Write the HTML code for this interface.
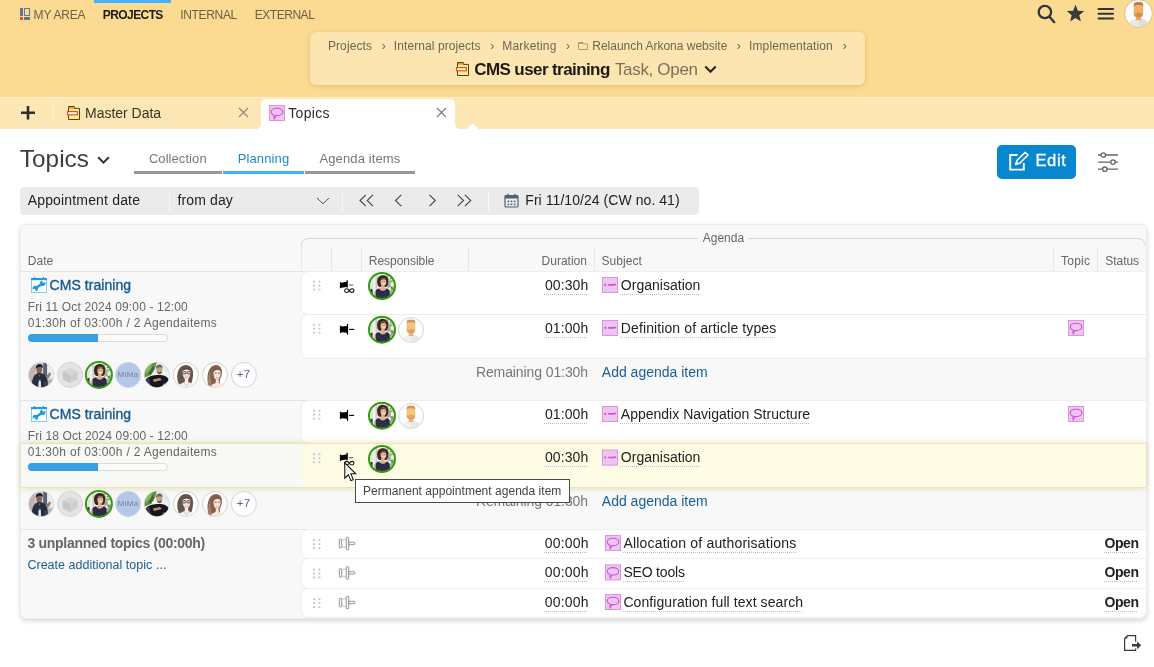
<!DOCTYPE html>
<html lang="en">
<head>
<meta charset="utf-8">
<title>Topics - CMS user training</title>
<style>
*{box-sizing:border-box;margin:0;padding:0}
html,body{width:1154px;height:667px;overflow:hidden;background:#fff}
body{font-family:"Liberation Sans",sans-serif;color:#222;position:relative;font-size:14px}
.a{position:absolute}
.t{position:absolute;white-space:nowrap;line-height:1;z-index:2}
.t.du{text-decoration:underline dotted #a9c4dd;text-decoration-thickness:1px;text-underline-offset:3.5px}
.t.tip{z-index:12}
#top{left:0;top:0;width:1154px;height:97px;background:#fbdb92}
#tabbar{left:0;top:97px;width:1154px;height:32px;background:#fce6b4;border-top:1px solid #fdecc6}
#crumb{left:310px;top:32px;width:555px;height:53px;background:#fce5b0;border-radius:6px;box-shadow:0 1px 5px rgba(170,120,30,.3)}
#navbar{left:94px;top:0;width:77px;height:3px;background:#44b1fd}
#acttab{left:261px;top:99px;width:194px;height:30px;background:#fff;border-radius:5px 5px 0 0}
.sub{height:3px;top:171px;background:#979797}
#filter{left:20px;top:187px;width:679px;height:28px;background:#ebebeb;border-radius:4px}
.fsep{top:191px;width:1px;height:20px;background:#f7f7f7}
#panel{left:20px;top:224px;width:1127px;height:395px;background:#f8f8f8;border:1px solid #ececec;border-radius:6px;box-shadow:0 2px 5px rgba(0,0,0,.16)}
.hsep{top:248px;width:1px;height:23px;background:#e6e6e6}
.hl{height:1px;background:#e4e4e4}
.row{left:302px;width:844px;background:#fff;border-radius:6px 0 0 6px;box-shadow:-1px 0 0 #eee,0 1px 0 #ececec,0 -1px 0 #efefef}
.av{border-radius:50%;overflow:hidden}
#edit{left:997px;top:145px;width:79px;height:34px;background:#0886ce;border-radius:5px}
#tipbox{left:355px;top:479px;width:215px;height:24px;background:#fff;border:1px solid #4a4a4a;z-index:10}
#cursor{left:343px;top:461px;z-index:14}
svg{position:absolute;overflow:visible}
#texts{position:absolute;left:0;top:0;width:1154px;height:667px;will-change:transform;z-index:2;pointer-events:none}
#tiptext{position:absolute;left:0;top:0;width:1154px;height:667px;will-change:transform;z-index:12;pointer-events:none}

</style>
</head>
<body>
<div class="a" id="top"></div>
<div class="a" id="tabbar"></div>
<div class="a" id="navbar"></div>
<div class="a" id="crumb"></div>
<!-- nav icon -->
<svg style="left:20px;top:8px" width="10" height="12" viewBox="0 0 10 12"><rect x="0" y="0" width="3" height="8" fill="#5f7896"/><rect x="4.5" y="0.5" width="5" height="7" fill="none" stroke="#5f7896"/><rect x="0" y="9" width="3" height="3" fill="#e0564e"/><rect x="4" y="9" width="6" height="3" fill="#5f7896"/></svg>
<!-- top right icons -->
<svg style="left:1036px;top:4px" width="20" height="20" viewBox="0 0 20 20"><circle cx="8.9" cy="8" r="6.2" fill="none" stroke="#32363c" stroke-width="2.3"/><path d="M13.5 12.8 L18.2 18.2" stroke="#32363c" stroke-width="2.4" stroke-linecap="round"/></svg>
<svg style="left:1066px;top:4px" width="19" height="18" viewBox="0 0 19 18"><path d="M9.5 0.8 L11.9 6.7 L18.2 7.1 L13.3 11.2 L14.9 17.4 L9.5 14 L4.1 17.4 L5.7 11.2 L0.8 7.1 L7.1 6.7 Z" fill="#3a3a3a"/></svg>
<svg style="left:1098px;top:8px" width="16" height="12" viewBox="0 0 16 12"><path d="M0.5 1 H15 M0.5 5.8 H15 M0.5 10.6 H15" stroke="#30333a" stroke-width="2" stroke-linecap="round"/></svg>
<svg style="left:1124px;top:-1.5px" width="29" height="29" viewBox="-14.5 -14.5 29 29"><defs><clipPath id="uc"><circle r="13.4"/></clipPath><filter id="ubl" x="-10%" y="-10%" width="120%" height="120%"><feGaussianBlur stdDeviation="0.3"/></filter></defs><circle r="13.9" fill="#fdfdfd" stroke="#dcc08a" stroke-width="1"/><g clip-path="url(#uc)"><g filter="url(#ubl)" transform="scale(1.1)"><path d="M-10.4 13 C-10.4 7.4 -6 5 0 5 C6 5 10.4 7.4 10.4 13 Z" fill="#e9e9e9"/><path d="M0.3 5 C6 5 10.4 7.4 10.4 13 L0.3 13 Z" fill="#dedede"/><rect x="-2.4" y="1" width="4.8" height="5" fill="#e9a65c"/><rect x="-4.3" y="-10.2" width="8.5" height="13.4" rx="2.6" fill="#f0b06c"/><path d="M-4.3 -6 L-4.3 -7.6 C-4.3 -9.6 -3 -10.3 -1.6 -10.3 L1.6 -10.3 C3 -10.3 4.2 -9.6 4.2 -7.6 L4.2 -6 C3.6 -7.6 3 -7.8 0 -7.8 C-3 -7.8 -3.7 -7.6 -4.3 -6 Z" fill="#b87a42"/><path d="M-4.3 -3 C-4.3 2.4 -2.6 3.4 0 3.4 C2.6 3.4 4.2 2.4 4.2 -3 C3.8 0 3 0.4 0 0.4 C-3 0.4 -3.9 0 -4.3 -3 Z" fill="#cf9550"/><path d="M-1.6 -0.4 H1.6" stroke="#a86f3a" stroke-width="0.7"/></g></g></svg>
<!-- breadcrumb folder + task icon -->
<svg style="left:578px;top:42px" width="10" height="8" viewBox="0 0 10 8"><path d="M0.5 0.5 H5 V1.9 H9.5 V7.5 H0.5 Z" fill="none" stroke="#a89a7a" stroke-width="1"/><rect x="0.5" y="0.3" width="4.5" height="1.5" fill="#a89a7a"/></svg>
<svg style="left:456px;top:62px" width="13" height="14" viewBox="0 0 13 14"><path d="M1.5 0.5 H7.3 V2.4 H12.5 V13.5 H1.5 Z" fill="#fcee8e" stroke="#4a4420" stroke-width="1"/><rect x="2" y="1" width="4.8" height="1.7" fill="#ff9800"/><rect x="0.6" y="5.6" width="9.8" height="3.2" fill="#fff" stroke="#ff3b00" stroke-width="1.1"/></svg>
<!-- tab bar -->
<svg style="left:20px;top:105px" width="16" height="16" viewBox="0 0 16 16"><path d="M8 1 V14.6 M1 7.8 H15" stroke="#2e2e2e" stroke-width="2.6"/></svg>
<div class="a" style="left:53px;top:101px;width:1px;height:23px;background:#fdf0d0"></div>
<svg style="left:67px;top:106px" width="13" height="14" viewBox="0 0 13 14"><path d="M1.5 0.5 H7.3 V2.4 H12.5 V13.5 H1.5 Z" fill="#fcee8e" stroke="#4a4420" stroke-width="1"/><rect x="2" y="1" width="4.8" height="1.7" fill="#ff9800"/><rect x="0.6" y="5.6" width="9.8" height="3.2" fill="#fff" stroke="#ff3b00" stroke-width="1.1"/></svg>
<svg style="left:238px;top:107.2px" width="11" height="11" viewBox="0 0 11 11"><path d="M1 1 L10 10 M10 1 L1 10" stroke="#8d8778" stroke-width="1.1"/></svg>
<div class="a" id="acttab"></div>
<svg style="left:255px;top:123px" width="6" height="6" viewBox="0 0 6 6"><path d="M6 0 V6 H0 C4 6 6 4 6 0 Z" fill="#fff"/></svg>
<svg style="left:455px;top:123px" width="6" height="6" viewBox="0 0 6 6"><path d="M0 0 V6 H6 C2 6 0 4 0 0 Z" fill="#fff"/></svg>
<svg style="left:466.3px;top:122.5px" width="13.2" height="6.5" viewBox="0 0 14 7"><path d="M0 7 L7 0 L14 7 Z" fill="#fff"/></svg>
<svg style="left:436px;top:107.2px" width="11" height="11" viewBox="0 0 11 11"><path d="M1 1 L10 10 M10 1 L1 10" stroke="#777" stroke-width="1.1"/></svg>
<svg class="ti" style="left:269px;top:105px" width="16" height="16" viewBox="0 0 16 16"><rect x="0.5" y="0.5" width="15" height="15" fill="#eec4f0" stroke="#dd92e2"/><path d="M8 3.2 C11.3 3.2 13.8 4.8 13.8 6.9 C13.8 9 11.3 10.6 8 10.6 C7.5 10.6 7 10.55 6.5 10.5 C6.3 11.6 5.9 12.6 5.3 13.6 C5.2 12.4 5 11.2 4.7 10 C3.2 9.3 2.2 8.2 2.2 6.9 C2.2 4.8 4.7 3.2 8 3.2 Z" fill="none" stroke="#c754d0" stroke-width="1.1"/></svg>
<!-- title chevron -->
<svg style="left:96.5px;top:156px" width="13" height="8.7" viewBox="0 0 12 8"><path d="M1.1 1.2 L6 6.1 L10.9 1.2" fill="none" stroke="#333" stroke-width="1.9"/></svg>
<svg style="left:704px;top:65px" width="13" height="9" viewBox="0 0 13 9"><path d="M1.3 1.5 L6.5 6.7 L11.7 1.5" fill="none" stroke="#2b2820" stroke-width="2.2"/></svg>
<!-- sub tabs -->
<div class="a sub" style="left:134px;width:88px"></div>
<div class="a sub" style="left:223px;width:81px;background:#41b0fe"></div>
<div class="a sub" style="left:305px;width:110px"></div>
<!-- edit button -->
<div class="a" id="edit"></div>
<svg style="left:1008px;top:150px" width="22" height="22" viewBox="0 0 22 22"><path d="M9.5 5 H2.2 V19.6 H15.8 V13" fill="none" stroke="#fff" stroke-width="1.9"/><path d="M7.6 14.6 L8.8 10.6 L17.2 2.2 L20 5 L11.6 13.4 Z" fill="#0886ce" stroke="#fff" stroke-width="1.5" stroke-linejoin="round"/><path d="M7.2 15 L8.6 11 L11.2 13.6 Z" fill="#fff"/></svg>
<svg style="left:1098px;top:152px" width="20" height="20" viewBox="0 0 20 20"><g stroke="#666" stroke-width="1.3" fill="#fff"><path d="M0 3 H20 M0 10.1 H20 M0 17.2 H20"/><circle cx="5.3" cy="3" r="2.2"/><circle cx="15" cy="10.1" r="2.2"/><circle cx="6.8" cy="17.2" r="2.2"/></g></svg>
<!-- filter bar -->
<div class="a" id="filter"></div>
<div class="a fsep" style="left:169px"></div>
<div class="a fsep" style="left:342px"></div>
<div class="a fsep" style="left:488px"></div>
<svg style="left:316px;top:197px" width="14" height="8" viewBox="0 0 14 8"><path d="M1 1 L7 6.8 L13 1" fill="none" stroke="#555" stroke-width="1"/></svg>
<svg style="left:359px;top:194px" width="113" height="13" viewBox="0 0 113 13"><g fill="none" stroke="#444" stroke-width="1.1"><path d="M6.8 0.8 L1 6.5 L6.8 12.2 M14 0.8 L8.2 6.5 L14 12.2"/><path d="M42.3 0.8 L36.5 6.5 L42.3 12.2"/><path d="M70.5 0.8 L76.3 6.5 L70.5 12.2"/><path d="M98.7 0.8 L104.5 6.5 L98.7 12.2 M105.9 0.8 L111.7 6.5 L105.9 12.2"/></g></svg>
<svg style="left:504px;top:193px" width="15" height="15" viewBox="0 0 15 15"><rect x="1" y="2.5" width="13" height="11.5" rx="1" fill="none" stroke="#566070" stroke-width="1.2"/><rect x="1" y="2.5" width="13" height="3" fill="#566070"/><path d="M4 0.8 V3 M11 0.8 V3" stroke="#566070" stroke-width="1.4"/><g fill="#566070"><rect x="3.6" y="7.6" width="1.6" height="1.6"/><rect x="6.7" y="7.6" width="1.6" height="1.6"/><rect x="9.8" y="7.6" width="1.6" height="1.6"/><rect x="3.6" y="10.6" width="1.6" height="1.6"/><rect x="6.7" y="10.6" width="1.6" height="1.6"/><rect x="9.8" y="10.6" width="1.6" height="1.6"/></g></svg>
<!-- panel -->
<div class="a" id="panel"></div>
<svg style="left:301px;top:238px" width="846" height="12" viewBox="0 0 846 12"><path d="M0.5 9.5 V8 Q0.5 0.5 8 0.5 H397" fill="none" stroke="#d6d6d6"/><path d="M447 0.5 H836 Q843.5 0.5 843.5 6.5" fill="none" stroke="#d6d6d6"/></svg>
<div class="a hsep" style="left:301px"></div>
<div class="a hsep" style="left:331px"></div>
<div class="a hsep" style="left:361px"></div>
<div class="a hsep" style="left:468px"></div>
<div class="a hsep" style="left:594px"></div>
<div class="a hsep" style="left:1053px"></div>
<div class="a hsep" style="left:1097px"></div>
<div class="a hl" style="left:21px;top:271px;width:1125px"></div>
<div class="a hl" style="left:21px;top:400px;width:1125px"></div>
<div class="a hl" style="left:21px;top:529px;width:1125px"></div>
<div class="a row" style="top:272px;height:42px"></div><div class="a row" style="top:315px;height:43px"></div><div class="a row" style="top:401px;height:42px"></div><div class="a hl" style="left:303px;top:314px;width:843px;background:#ebebeb"></div><div class="a" style="left:21px;top:443px;width:1125px;height:45px;border-top:1px solid #ebe5b4;border-bottom:1px solid #ebe5b4;box-shadow:0 0 6px rgba(190,180,90,.45);background:#f8f8f5"></div><div class="a" style="left:302px;top:444px;width:844px;height:43px;background:#fdfbe3;border-radius:6px 0 0 6px"></div><div class="a row" style="top:530px;height:28.3px;border-radius:6px 0 0 6px"></div><div class="a row" style="top:559.3px;height:28.7px;border-radius:6px 0 0 6px"></div><div class="a row" style="top:589px;height:28.4px;border-radius:6px 0 6px 6px"></div><div class="a" style="left:28px;top:334px;width:140px;height:8px;border:1px solid #dcdcdc;border-radius:4px;background:#fbfbfb"></div><div class="a" style="left:28px;top:334px;width:70px;height:8px;border-radius:4px 0 0 4px;background:#379fe6"></div><div class="a" style="left:28px;top:463px;width:140px;height:8px;border:1px solid #dcdcdc;border-radius:4px;background:#fbfbfb"></div><div class="a" style="left:28px;top:463px;width:70px;height:8px;border-radius:4px 0 0 4px;background:#379fe6"></div><svg style="left:0;top:0" width="1154" height="667" viewBox="0 0 1154 667"><defs><filter id="bl" x="-10%" y="-10%" width="120%" height="120%"><feGaussianBlur stdDeviation="0.45"/></filter><filter id="bl2" x="-10%" y="-10%" width="120%" height="120%"><feGaussianBlur stdDeviation="0.3"/></filter></defs><rect x="313.1" y="280.7" width="1.9" height="1.9" rx="0.4" fill="#b9c1d2"/><rect x="313.1" y="284.7" width="1.9" height="1.9" rx="0.4" fill="#b9c1d2"/><rect x="313.1" y="288.7" width="1.9" height="1.9" rx="0.4" fill="#b9c1d2"/><rect x="318.5" y="280.7" width="1.9" height="1.9" rx="0.4" fill="#b9c1d2"/><rect x="318.5" y="284.7" width="1.9" height="1.9" rx="0.4" fill="#b9c1d2"/><rect x="318.5" y="288.7" width="1.9" height="1.9" rx="0.4" fill="#b9c1d2"/><g transform="translate(602,277)"><rect x="0.5" y="0.5" width="15" height="15" fill="#eec4f0" stroke="#dd92e2"/><rect x="2.3" y="6.9" width="1.9" height="1.9" fill="#c754d0"/><path d="M6.2 7.9 H12 L13.8 7.2" stroke="#c754d0" stroke-width="1.7" fill="none"/></g><rect x="313.1" y="323.7" width="1.9" height="1.9" rx="0.4" fill="#b9c1d2"/><rect x="313.1" y="327.7" width="1.9" height="1.9" rx="0.4" fill="#b9c1d2"/><rect x="313.1" y="331.7" width="1.9" height="1.9" rx="0.4" fill="#b9c1d2"/><rect x="318.5" y="323.7" width="1.9" height="1.9" rx="0.4" fill="#b9c1d2"/><rect x="318.5" y="327.7" width="1.9" height="1.9" rx="0.4" fill="#b9c1d2"/><rect x="318.5" y="331.7" width="1.9" height="1.9" rx="0.4" fill="#b9c1d2"/><g transform="translate(602,320)"><rect x="0.5" y="0.5" width="15" height="15" fill="#eec4f0" stroke="#dd92e2"/><rect x="2.3" y="6.9" width="1.9" height="1.9" fill="#c754d0"/><path d="M6.2 7.9 H12 L13.8 7.2" stroke="#c754d0" stroke-width="1.7" fill="none"/></g><rect x="313.1" y="409.7" width="1.9" height="1.9" rx="0.4" fill="#b9c1d2"/><rect x="313.1" y="413.7" width="1.9" height="1.9" rx="0.4" fill="#b9c1d2"/><rect x="313.1" y="417.7" width="1.9" height="1.9" rx="0.4" fill="#b9c1d2"/><rect x="318.5" y="409.7" width="1.9" height="1.9" rx="0.4" fill="#b9c1d2"/><rect x="318.5" y="413.7" width="1.9" height="1.9" rx="0.4" fill="#b9c1d2"/><rect x="318.5" y="417.7" width="1.9" height="1.9" rx="0.4" fill="#b9c1d2"/><g transform="translate(602,406)"><rect x="0.5" y="0.5" width="15" height="15" fill="#eec4f0" stroke="#dd92e2"/><rect x="2.3" y="6.9" width="1.9" height="1.9" fill="#c754d0"/><path d="M6.2 7.9 H12 L13.8 7.2" stroke="#c754d0" stroke-width="1.7" fill="none"/></g><rect x="313.1" y="453.3" width="1.9" height="1.9" rx="0.4" fill="#c0c5cc"/><rect x="313.1" y="457.3" width="1.9" height="1.9" rx="0.4" fill="#c0c5cc"/><rect x="313.1" y="461.3" width="1.9" height="1.9" rx="0.4" fill="#c0c5cc"/><rect x="318.5" y="453.3" width="1.9" height="1.9" rx="0.4" fill="#c0c5cc"/><rect x="318.5" y="457.3" width="1.9" height="1.9" rx="0.4" fill="#c0c5cc"/><rect x="318.5" y="461.3" width="1.9" height="1.9" rx="0.4" fill="#c0c5cc"/><g transform="translate(602,449.6)"><rect x="0.5" y="0.5" width="15" height="15" fill="#eec4f0" stroke="#dd92e2"/><rect x="2.3" y="6.9" width="1.9" height="1.9" fill="#c754d0"/><path d="M6.2 7.9 H12 L13.8 7.2" stroke="#c754d0" stroke-width="1.7" fill="none"/></g><g transform="translate(339.9,285)"><path d="M0 -3 L0.9 -3 L1.4 -2.3 L6.6 -3.2 L6.6 -4.8 L7.9 -4.8 L7.9 2.6 L6.6 2.6 L6.6 2 L1.4 2.7 L0.9 3.3 L0 3.3 Z" fill="#000"/><path d="M8.8 0.1 H13.2" stroke="#666" stroke-width="1.1"/><path d="M9.4 5.6 C8 3.2 5 3.2 4.8 5.5 C4.6 8 7.8 8.1 9.4 5.6 C11 3.1 14.2 3.2 14 5.6 C13.8 8 10.8 8 9.4 5.6 Z" fill="none" stroke="#111" stroke-width="1.1"/></g><g transform="translate(339.9,329.4)"><path d="M0 -3.6 L1 -3.6 L1.6 -2.8 L7 -3.3 L7 -5.4 L8.2 -5.4 L8.2 5.4 L7 5.4 L7 3.3 L1.6 2.8 L1 3.6 L0 3.6 Z" fill="#000"/><path d="M9.2 0 H14.2" stroke="#000" stroke-width="1.1"/></g><g transform="translate(339.9,415.4)"><path d="M0 -3.6 L1 -3.6 L1.6 -2.8 L7 -3.3 L7 -5.4 L8.2 -5.4 L8.2 5.4 L7 5.4 L7 3.3 L1.6 2.8 L1 3.6 L0 3.6 Z" fill="#000"/><path d="M9.2 0 H14.2" stroke="#000" stroke-width="1.1"/></g><g transform="translate(339.9,457.6)"><path d="M0 -3 L0.9 -3 L1.4 -2.3 L6.6 -3.2 L6.6 -4.8 L7.9 -4.8 L7.9 2.6 L6.6 2.6 L6.6 2 L1.4 2.7 L0.9 3.3 L0 3.3 Z" fill="#000"/><path d="M8.8 0.1 H13.2" stroke="#666" stroke-width="1.1"/><path d="M9.4 5.6 C8 3.2 5 3.2 4.8 5.5 C4.6 8 7.8 8.1 9.4 5.6 C11 3.1 14.2 3.2 14 5.6 C13.8 8 10.8 8 9.4 5.6 Z" fill="none" stroke="#111" stroke-width="1.1"/></g><g transform="translate(382,286)"><defs><clipPath id="c1"><circle r="12"/></clipPath></defs><circle r="12.9" fill="#ecece8" stroke="#2f9d0b" stroke-width="2.2"/><g clip-path="url(#c1)"><g filter="url(#bl)"><rect x="-14" y="-14" width="28" height="28" fill="#efefec"/><rect x="-6.4" y="-14" width="1.6" height="20" fill="#c9c9c6"/><rect x="-14" y="-14" width="5" height="28" fill="#e2e2df"/><path d="M4 -14 L14 -14 L14 8 L6 8 Z" fill="#9db08d"/><path d="M6 -9 L9 -11 L10.5 -7 L8 -5 Z M8.5 -3 L11.5 -4.5 L12 0 L9 1 Z M6 2 L8.4 1 L8.6 5 L6.4 5 Z" fill="#f2f4ec"/><path d="M8 -7 L11 -9 M9 1 L12 4" stroke="#5f7a50" stroke-width="1.2"/><path d="M-13 3.5 L-9.4 3 L-9.4 9 L-13 10 Z" fill="#2f2f33"/><path d="M-4.6 -2 C-6 -9.6 -1.4 -11.2 1.6 -10.8 C5.6 -10.4 7 -6.6 6 -2 C5.6 -0.4 5 0.6 4.2 1 L-2.8 1 C-3.8 0.2 -4.4 -0.8 -4.6 -2 Z" fill="#40261b"/><ellipse cx="1.4" cy="-4.2" rx="2.9" ry="3.9" fill="#e4b9a0"/><path d="M-1.6 -5.4 C-0.6 -8.6 3.4 -8.6 4.6 -5 C3 -7 0.6 -7.2 -1.6 -5.4 Z" fill="#40261b"/><circle cx="0.2" cy="-4.6" r="0.4" fill="#5a3a2e"/><circle cx="2.7" cy="-4.6" r="0.4" fill="#5a3a2e"/><path d="M0.2 -2.6 Q1.5 -1.7 2.9 -2.6" stroke="#fff" stroke-width="0.7" fill="none"/><path d="M-0.8 -1 L2.6 -1 L2.8 3.6 L-1 3.6 Z" fill="#ddb096"/><path d="M-3 2 L4.6 2 L4 5 L-2.4 5 Z" fill="#ddb096"/><path d="M-8.6 14 C-8.8 7 -6.8 3.2 -3 2.4 C-1.6 5.6 3.4 5.6 4.6 2.4 C7.8 3.2 9.4 6 9.2 14 Z" fill="#2a2c46"/><path d="M-8.8 12 C-8.8 8 -7.8 5.6 -6.2 4.4 L-6.4 11 Z" fill="#e0b49a"/><path d="M9.2 9 C9 7 8.4 5.4 7.6 4.6 L7.8 8 Z" fill="#e0b49a"/><g fill="#6f7390"><circle cx="-3" cy="7" r="0.35"/><circle cx="0" cy="8.4" r="0.35"/><circle cx="3" cy="7" r="0.35"/><circle cx="-1.4" cy="10.6" r="0.35"/><circle cx="2" cy="10.4" r="0.35"/><circle cx="5" cy="9" r="0.35"/><circle cx="-5" cy="9.6" r="0.35"/></g></g></g></g><g transform="translate(382,329.7)"><defs><clipPath id="c2"><circle r="12"/></clipPath></defs><circle r="12.9" fill="#ecece8" stroke="#2f9d0b" stroke-width="2.2"/><g clip-path="url(#c2)"><g filter="url(#bl)"><rect x="-14" y="-14" width="28" height="28" fill="#efefec"/><rect x="-6.4" y="-14" width="1.6" height="20" fill="#c9c9c6"/><rect x="-14" y="-14" width="5" height="28" fill="#e2e2df"/><path d="M4 -14 L14 -14 L14 8 L6 8 Z" fill="#9db08d"/><path d="M6 -9 L9 -11 L10.5 -7 L8 -5 Z M8.5 -3 L11.5 -4.5 L12 0 L9 1 Z M6 2 L8.4 1 L8.6 5 L6.4 5 Z" fill="#f2f4ec"/><path d="M8 -7 L11 -9 M9 1 L12 4" stroke="#5f7a50" stroke-width="1.2"/><path d="M-13 3.5 L-9.4 3 L-9.4 9 L-13 10 Z" fill="#2f2f33"/><path d="M-4.6 -2 C-6 -9.6 -1.4 -11.2 1.6 -10.8 C5.6 -10.4 7 -6.6 6 -2 C5.6 -0.4 5 0.6 4.2 1 L-2.8 1 C-3.8 0.2 -4.4 -0.8 -4.6 -2 Z" fill="#40261b"/><ellipse cx="1.4" cy="-4.2" rx="2.9" ry="3.9" fill="#e4b9a0"/><path d="M-1.6 -5.4 C-0.6 -8.6 3.4 -8.6 4.6 -5 C3 -7 0.6 -7.2 -1.6 -5.4 Z" fill="#40261b"/><circle cx="0.2" cy="-4.6" r="0.4" fill="#5a3a2e"/><circle cx="2.7" cy="-4.6" r="0.4" fill="#5a3a2e"/><path d="M0.2 -2.6 Q1.5 -1.7 2.9 -2.6" stroke="#fff" stroke-width="0.7" fill="none"/><path d="M-0.8 -1 L2.6 -1 L2.8 3.6 L-1 3.6 Z" fill="#ddb096"/><path d="M-3 2 L4.6 2 L4 5 L-2.4 5 Z" fill="#ddb096"/><path d="M-8.6 14 C-8.8 7 -6.8 3.2 -3 2.4 C-1.6 5.6 3.4 5.6 4.6 2.4 C7.8 3.2 9.4 6 9.2 14 Z" fill="#2a2c46"/><path d="M-8.8 12 C-8.8 8 -7.8 5.6 -6.2 4.4 L-6.4 11 Z" fill="#e0b49a"/><path d="M9.2 9 C9 7 8.4 5.4 7.6 4.6 L7.8 8 Z" fill="#e0b49a"/><g fill="#6f7390"><circle cx="-3" cy="7" r="0.35"/><circle cx="0" cy="8.4" r="0.35"/><circle cx="3" cy="7" r="0.35"/><circle cx="-1.4" cy="10.6" r="0.35"/><circle cx="2" cy="10.4" r="0.35"/><circle cx="5" cy="9" r="0.35"/><circle cx="-5" cy="9.6" r="0.35"/></g></g></g></g><g transform="translate(411,330)"><defs><clipPath id="c3"><circle r="12.1"/></clipPath></defs><circle r="12.5" fill="#fdfdfd" stroke="#d6d6d6" stroke-width="1"/><g clip-path="url(#c3)"><g filter="url(#bl2)" opacity="0.85"><path d="M-10.4 13 C-10.4 7.4 -6 5 0 5 C6 5 10.4 7.4 10.4 13 Z" fill="#eeeeee"/><path d="M0.3 5 C6 5 10.4 7.4 10.4 13 L0.3 13 Z" fill="#e4e4e4"/><rect x="-2.4" y="1" width="4.8" height="5" fill="#e9a65c"/><rect x="-4.3" y="-10.2" width="8.5" height="13.4" rx="2.6" fill="#f4b963"/><path d="M-4.3 -6 L-4.3 -7.6 C-4.3 -9.6 -3 -10.3 -1.6 -10.3 L1.6 -10.3 C3 -10.3 4.2 -9.6 4.2 -7.6 L4.2 -6 C3.6 -7.6 3 -7.8 0 -7.8 C-3 -7.8 -3.7 -7.6 -4.3 -6 Z" fill="#bf8646"/><path d="M-4.3 -3 C-4.3 2.4 -2.6 3.4 0 3.4 C2.6 3.4 4.2 2.4 4.2 -3 C3.8 0 3 0.4 0 0.4 C-3 0.4 -3.9 0 -4.3 -3 Z" fill="#cf9550"/><path d="M-1.6 -0.4 H1.6" stroke="#a86f3a" stroke-width="0.7"/></g></g></g><g transform="translate(382,415.7)"><defs><clipPath id="c4"><circle r="12"/></clipPath></defs><circle r="12.9" fill="#ecece8" stroke="#2f9d0b" stroke-width="2.2"/><g clip-path="url(#c4)"><g filter="url(#bl)"><rect x="-14" y="-14" width="28" height="28" fill="#efefec"/><rect x="-6.4" y="-14" width="1.6" height="20" fill="#c9c9c6"/><rect x="-14" y="-14" width="5" height="28" fill="#e2e2df"/><path d="M4 -14 L14 -14 L14 8 L6 8 Z" fill="#9db08d"/><path d="M6 -9 L9 -11 L10.5 -7 L8 -5 Z M8.5 -3 L11.5 -4.5 L12 0 L9 1 Z M6 2 L8.4 1 L8.6 5 L6.4 5 Z" fill="#f2f4ec"/><path d="M8 -7 L11 -9 M9 1 L12 4" stroke="#5f7a50" stroke-width="1.2"/><path d="M-13 3.5 L-9.4 3 L-9.4 9 L-13 10 Z" fill="#2f2f33"/><path d="M-4.6 -2 C-6 -9.6 -1.4 -11.2 1.6 -10.8 C5.6 -10.4 7 -6.6 6 -2 C5.6 -0.4 5 0.6 4.2 1 L-2.8 1 C-3.8 0.2 -4.4 -0.8 -4.6 -2 Z" fill="#40261b"/><ellipse cx="1.4" cy="-4.2" rx="2.9" ry="3.9" fill="#e4b9a0"/><path d="M-1.6 -5.4 C-0.6 -8.6 3.4 -8.6 4.6 -5 C3 -7 0.6 -7.2 -1.6 -5.4 Z" fill="#40261b"/><circle cx="0.2" cy="-4.6" r="0.4" fill="#5a3a2e"/><circle cx="2.7" cy="-4.6" r="0.4" fill="#5a3a2e"/><path d="M0.2 -2.6 Q1.5 -1.7 2.9 -2.6" stroke="#fff" stroke-width="0.7" fill="none"/><path d="M-0.8 -1 L2.6 -1 L2.8 3.6 L-1 3.6 Z" fill="#ddb096"/><path d="M-3 2 L4.6 2 L4 5 L-2.4 5 Z" fill="#ddb096"/><path d="M-8.6 14 C-8.8 7 -6.8 3.2 -3 2.4 C-1.6 5.6 3.4 5.6 4.6 2.4 C7.8 3.2 9.4 6 9.2 14 Z" fill="#2a2c46"/><path d="M-8.8 12 C-8.8 8 -7.8 5.6 -6.2 4.4 L-6.4 11 Z" fill="#e0b49a"/><path d="M9.2 9 C9 7 8.4 5.4 7.6 4.6 L7.8 8 Z" fill="#e0b49a"/><g fill="#6f7390"><circle cx="-3" cy="7" r="0.35"/><circle cx="0" cy="8.4" r="0.35"/><circle cx="3" cy="7" r="0.35"/><circle cx="-1.4" cy="10.6" r="0.35"/><circle cx="2" cy="10.4" r="0.35"/><circle cx="5" cy="9" r="0.35"/><circle cx="-5" cy="9.6" r="0.35"/></g></g></g></g><g transform="translate(411,416)"><defs><clipPath id="c5"><circle r="12.1"/></clipPath></defs><circle r="12.5" fill="#fdfdfd" stroke="#d6d6d6" stroke-width="1"/><g clip-path="url(#c5)"><g filter="url(#bl2)" opacity="0.85"><path d="M-10.4 13 C-10.4 7.4 -6 5 0 5 C6 5 10.4 7.4 10.4 13 Z" fill="#eeeeee"/><path d="M0.3 5 C6 5 10.4 7.4 10.4 13 L0.3 13 Z" fill="#e4e4e4"/><rect x="-2.4" y="1" width="4.8" height="5" fill="#e9a65c"/><rect x="-4.3" y="-10.2" width="8.5" height="13.4" rx="2.6" fill="#f4b963"/><path d="M-4.3 -6 L-4.3 -7.6 C-4.3 -9.6 -3 -10.3 -1.6 -10.3 L1.6 -10.3 C3 -10.3 4.2 -9.6 4.2 -7.6 L4.2 -6 C3.6 -7.6 3 -7.8 0 -7.8 C-3 -7.8 -3.7 -7.6 -4.3 -6 Z" fill="#bf8646"/><path d="M-4.3 -3 C-4.3 2.4 -2.6 3.4 0 3.4 C2.6 3.4 4.2 2.4 4.2 -3 C3.8 0 3 0.4 0 0.4 C-3 0.4 -3.9 0 -4.3 -3 Z" fill="#cf9550"/><path d="M-1.6 -0.4 H1.6" stroke="#a86f3a" stroke-width="0.7"/></g></g></g><g transform="translate(382,459)"><defs><clipPath id="c6"><circle r="12"/></clipPath></defs><circle r="12.9" fill="#ecece8" stroke="#2f9d0b" stroke-width="2.2"/><g clip-path="url(#c6)"><g filter="url(#bl)"><rect x="-14" y="-14" width="28" height="28" fill="#efefec"/><rect x="-6.4" y="-14" width="1.6" height="20" fill="#c9c9c6"/><rect x="-14" y="-14" width="5" height="28" fill="#e2e2df"/><path d="M4 -14 L14 -14 L14 8 L6 8 Z" fill="#9db08d"/><path d="M6 -9 L9 -11 L10.5 -7 L8 -5 Z M8.5 -3 L11.5 -4.5 L12 0 L9 1 Z M6 2 L8.4 1 L8.6 5 L6.4 5 Z" fill="#f2f4ec"/><path d="M8 -7 L11 -9 M9 1 L12 4" stroke="#5f7a50" stroke-width="1.2"/><path d="M-13 3.5 L-9.4 3 L-9.4 9 L-13 10 Z" fill="#2f2f33"/><path d="M-4.6 -2 C-6 -9.6 -1.4 -11.2 1.6 -10.8 C5.6 -10.4 7 -6.6 6 -2 C5.6 -0.4 5 0.6 4.2 1 L-2.8 1 C-3.8 0.2 -4.4 -0.8 -4.6 -2 Z" fill="#40261b"/><ellipse cx="1.4" cy="-4.2" rx="2.9" ry="3.9" fill="#e4b9a0"/><path d="M-1.6 -5.4 C-0.6 -8.6 3.4 -8.6 4.6 -5 C3 -7 0.6 -7.2 -1.6 -5.4 Z" fill="#40261b"/><circle cx="0.2" cy="-4.6" r="0.4" fill="#5a3a2e"/><circle cx="2.7" cy="-4.6" r="0.4" fill="#5a3a2e"/><path d="M0.2 -2.6 Q1.5 -1.7 2.9 -2.6" stroke="#fff" stroke-width="0.7" fill="none"/><path d="M-0.8 -1 L2.6 -1 L2.8 3.6 L-1 3.6 Z" fill="#ddb096"/><path d="M-3 2 L4.6 2 L4 5 L-2.4 5 Z" fill="#ddb096"/><path d="M-8.6 14 C-8.8 7 -6.8 3.2 -3 2.4 C-1.6 5.6 3.4 5.6 4.6 2.4 C7.8 3.2 9.4 6 9.2 14 Z" fill="#2a2c46"/><path d="M-8.8 12 C-8.8 8 -7.8 5.6 -6.2 4.4 L-6.4 11 Z" fill="#e0b49a"/><path d="M9.2 9 C9 7 8.4 5.4 7.6 4.6 L7.8 8 Z" fill="#e0b49a"/><g fill="#6f7390"><circle cx="-3" cy="7" r="0.35"/><circle cx="0" cy="8.4" r="0.35"/><circle cx="3" cy="7" r="0.35"/><circle cx="-1.4" cy="10.6" r="0.35"/><circle cx="2" cy="10.4" r="0.35"/><circle cx="5" cy="9" r="0.35"/><circle cx="-5" cy="9.6" r="0.35"/></g></g></g></g><g transform="translate(1068,320)"><rect x="0.5" y="0.5" width="15" height="15" fill="#eec4f0" stroke="#dd92e2"/><path d="M8 3.2 C11.3 3.2 13.8 4.8 13.8 6.9 C13.8 9 11.3 10.6 8 10.6 C7.5 10.6 7 10.55 6.5 10.5 C6.3 11.6 5.9 12.6 5.3 13.6 C5.2 12.4 5 11.2 4.7 10 C3.2 9.3 2.2 8.2 2.2 6.9 C2.2 4.8 4.7 3.2 8 3.2 Z" fill="none" stroke="#c754d0" stroke-width="1.1"/></g><g transform="translate(1068,406)"><rect x="0.5" y="0.5" width="15" height="15" fill="#eec4f0" stroke="#dd92e2"/><path d="M8 3.2 C11.3 3.2 13.8 4.8 13.8 6.9 C13.8 9 11.3 10.6 8 10.6 C7.5 10.6 7 10.55 6.5 10.5 C6.3 11.6 5.9 12.6 5.3 13.6 C5.2 12.4 5 11.2 4.7 10 C3.2 9.3 2.2 8.2 2.2 6.9 C2.2 4.8 4.7 3.2 8 3.2 Z" fill="none" stroke="#c754d0" stroke-width="1.1"/></g><rect x="313.1" y="539.2" width="1.9" height="1.9" rx="0.4" fill="#b9c1d2"/><rect x="313.1" y="543.2" width="1.9" height="1.9" rx="0.4" fill="#b9c1d2"/><rect x="313.1" y="547.2" width="1.9" height="1.9" rx="0.4" fill="#b9c1d2"/><rect x="318.5" y="539.2" width="1.9" height="1.9" rx="0.4" fill="#b9c1d2"/><rect x="318.5" y="543.2" width="1.9" height="1.9" rx="0.4" fill="#b9c1d2"/><rect x="318.5" y="547.2" width="1.9" height="1.9" rx="0.4" fill="#b9c1d2"/><g transform="translate(339.3,543.5)" fill="none" stroke="#8e8e8e" stroke-width="0.95"><rect x="0" y="-4.2" width="2.4" height="8.4" rx="0.5"/><path d="M2.4 -3.2 L7 -4 M2.4 3.2 L7 4" stroke="#c4c4c4"/><rect x="7" y="-6.2" width="2.4" height="12.4" rx="0.5"/><rect x="9.4" y="-1.2" width="6" height="2.4" rx="0.4"/></g><g transform="translate(605,535)"><rect x="0.5" y="0.5" width="15" height="15" fill="#eec4f0" stroke="#dd92e2"/><path d="M8 3.2 C11.3 3.2 13.8 4.8 13.8 6.9 C13.8 9 11.3 10.6 8 10.6 C7.5 10.6 7 10.55 6.5 10.5 C6.3 11.6 5.9 12.6 5.3 13.6 C5.2 12.4 5 11.2 4.7 10 C3.2 9.3 2.2 8.2 2.2 6.9 C2.2 4.8 4.7 3.2 8 3.2 Z" fill="none" stroke="#c754d0" stroke-width="1.1"/></g><rect x="313.1" y="568.6" width="1.9" height="1.9" rx="0.4" fill="#b9c1d2"/><rect x="313.1" y="572.6" width="1.9" height="1.9" rx="0.4" fill="#b9c1d2"/><rect x="313.1" y="576.6" width="1.9" height="1.9" rx="0.4" fill="#b9c1d2"/><rect x="318.5" y="568.6" width="1.9" height="1.9" rx="0.4" fill="#b9c1d2"/><rect x="318.5" y="572.6" width="1.9" height="1.9" rx="0.4" fill="#b9c1d2"/><rect x="318.5" y="576.6" width="1.9" height="1.9" rx="0.4" fill="#b9c1d2"/><g transform="translate(339.3,572.9)" fill="none" stroke="#8e8e8e" stroke-width="0.95"><rect x="0" y="-4.2" width="2.4" height="8.4" rx="0.5"/><path d="M2.4 -3.2 L7 -4 M2.4 3.2 L7 4" stroke="#c4c4c4"/><rect x="7" y="-6.2" width="2.4" height="12.4" rx="0.5"/><rect x="9.4" y="-1.2" width="6" height="2.4" rx="0.4"/></g><g transform="translate(605,564.4)"><rect x="0.5" y="0.5" width="15" height="15" fill="#eec4f0" stroke="#dd92e2"/><path d="M8 3.2 C11.3 3.2 13.8 4.8 13.8 6.9 C13.8 9 11.3 10.6 8 10.6 C7.5 10.6 7 10.55 6.5 10.5 C6.3 11.6 5.9 12.6 5.3 13.6 C5.2 12.4 5 11.2 4.7 10 C3.2 9.3 2.2 8.2 2.2 6.9 C2.2 4.8 4.7 3.2 8 3.2 Z" fill="none" stroke="#c754d0" stroke-width="1.1"/></g><rect x="313.1" y="598.2" width="1.9" height="1.9" rx="0.4" fill="#b9c1d2"/><rect x="313.1" y="602.2" width="1.9" height="1.9" rx="0.4" fill="#b9c1d2"/><rect x="313.1" y="606.2" width="1.9" height="1.9" rx="0.4" fill="#b9c1d2"/><rect x="318.5" y="598.2" width="1.9" height="1.9" rx="0.4" fill="#b9c1d2"/><rect x="318.5" y="602.2" width="1.9" height="1.9" rx="0.4" fill="#b9c1d2"/><rect x="318.5" y="606.2" width="1.9" height="1.9" rx="0.4" fill="#b9c1d2"/><g transform="translate(339.3,602.5)" fill="none" stroke="#8e8e8e" stroke-width="0.95"><rect x="0" y="-4.2" width="2.4" height="8.4" rx="0.5"/><path d="M2.4 -3.2 L7 -4 M2.4 3.2 L7 4" stroke="#c4c4c4"/><rect x="7" y="-6.2" width="2.4" height="12.4" rx="0.5"/><rect x="9.4" y="-1.2" width="6" height="2.4" rx="0.4"/></g><g transform="translate(605,594)"><rect x="0.5" y="0.5" width="15" height="15" fill="#eec4f0" stroke="#dd92e2"/><path d="M8 3.2 C11.3 3.2 13.8 4.8 13.8 6.9 C13.8 9 11.3 10.6 8 10.6 C7.5 10.6 7 10.55 6.5 10.5 C6.3 11.6 5.9 12.6 5.3 13.6 C5.2 12.4 5 11.2 4.7 10 C3.2 9.3 2.2 8.2 2.2 6.9 C2.2 4.8 4.7 3.2 8 3.2 Z" fill="none" stroke="#c754d0" stroke-width="1.1"/></g><g transform="translate(41.2,374.9)"><defs><clipPath id="c7"><circle r="12.3"/></clipPath></defs><circle r="12.6" fill="#c9ced8" stroke="#d9d9d9" stroke-width="1"/><g clip-path="url(#c7)"><g filter="url(#bl)"><rect x="-13" y="-13" width="26" height="26" fill="#cfd4dc"/><rect x="-13" y="-13" width="7" height="18" fill="#c4b2b2"/><rect x="2" y="-13" width="4" height="14" fill="#5a6274"/><rect x="6" y="-13" width="7" height="16" fill="#e9eef4"/><rect x="-13" y="5" width="26" height="8" fill="#aeb6c4"/><path d="M-9.4 13 C-10 3 -6.6 -1.6 -2 -2 C2.4 -2.2 5.6 0.6 6.4 6 L7 13 Z" fill="#272d3c"/><ellipse cx="-2" cy="-5.4" rx="2.9" ry="3.6" fill="#8b6450"/><path d="M-5.4 -6 C-5.8 -10.4 -3 -11 -1.6 -11 C0.4 -11 2 -10 1.6 -6.8 C0.2 -8.4 -3.6 -8.4 -5.4 -6 Z" fill="#23222c"/><path d="M-3.6 -2.8 C-3 -1 -1 -1 -0.2 -2.8 L-0.4 0 L-3.4 0 Z" fill="#3a2c28"/><path d="M-3.4 -0.6 L-1.6 2.4 L-0.6 -0.4 Z" fill="#70503f"/><path d="M4.6 1.6 L8.4 -2.6 L9.8 -1.4 L9 1 L6.4 4.4 Z" fill="#a07a64"/><path d="M-2.6 6 L-0.4 6 L0 13 L-3 13 Z" fill="#dfe8f4"/><rect x="-2.4" y="4.6" width="1.8" height="1.6" fill="#5b8fd0"/><path d="M3 7 L6 6 L6.6 13 L3.4 13 Z" fill="#3d4558"/></g></g></g><g transform="translate(70.1,374.9)"><circle r="12.5" fill="#e4e4e4" stroke="#d4d4d4" stroke-width="1"/><path d="M0 -7.2 L7.4 -3.6 L0 -0.2 L-7.4 -3.6 Z" fill="#d6d6d6"/><path d="M-7.4 -3.6 L0 -0.2 L0 8 L-7.4 4.4 Z" fill="#c6c6c6"/><path d="M7.4 -3.6 L0 -0.2 L0 8 L7.4 4.4 Z" fill="#cecece"/></g><g transform="translate(98.9,374.9)"><defs><clipPath id="c8"><circle r="12"/></clipPath></defs><circle r="12.9" fill="#ecece8" stroke="#2f9d0b" stroke-width="2.2"/><g clip-path="url(#c8)"><g filter="url(#bl)"><rect x="-14" y="-14" width="28" height="28" fill="#efefec"/><rect x="-6.4" y="-14" width="1.6" height="20" fill="#c9c9c6"/><rect x="-14" y="-14" width="5" height="28" fill="#e2e2df"/><path d="M4 -14 L14 -14 L14 8 L6 8 Z" fill="#9db08d"/><path d="M6 -9 L9 -11 L10.5 -7 L8 -5 Z M8.5 -3 L11.5 -4.5 L12 0 L9 1 Z M6 2 L8.4 1 L8.6 5 L6.4 5 Z" fill="#f2f4ec"/><path d="M8 -7 L11 -9 M9 1 L12 4" stroke="#5f7a50" stroke-width="1.2"/><path d="M-13 3.5 L-9.4 3 L-9.4 9 L-13 10 Z" fill="#2f2f33"/><path d="M-4.6 -2 C-6 -9.6 -1.4 -11.2 1.6 -10.8 C5.6 -10.4 7 -6.6 6 -2 C5.6 -0.4 5 0.6 4.2 1 L-2.8 1 C-3.8 0.2 -4.4 -0.8 -4.6 -2 Z" fill="#40261b"/><ellipse cx="1.4" cy="-4.2" rx="2.9" ry="3.9" fill="#e4b9a0"/><path d="M-1.6 -5.4 C-0.6 -8.6 3.4 -8.6 4.6 -5 C3 -7 0.6 -7.2 -1.6 -5.4 Z" fill="#40261b"/><circle cx="0.2" cy="-4.6" r="0.4" fill="#5a3a2e"/><circle cx="2.7" cy="-4.6" r="0.4" fill="#5a3a2e"/><path d="M0.2 -2.6 Q1.5 -1.7 2.9 -2.6" stroke="#fff" stroke-width="0.7" fill="none"/><path d="M-0.8 -1 L2.6 -1 L2.8 3.6 L-1 3.6 Z" fill="#ddb096"/><path d="M-3 2 L4.6 2 L4 5 L-2.4 5 Z" fill="#ddb096"/><path d="M-8.6 14 C-8.8 7 -6.8 3.2 -3 2.4 C-1.6 5.6 3.4 5.6 4.6 2.4 C7.8 3.2 9.4 6 9.2 14 Z" fill="#2a2c46"/><path d="M-8.8 12 C-8.8 8 -7.8 5.6 -6.2 4.4 L-6.4 11 Z" fill="#e0b49a"/><path d="M9.2 9 C9 7 8.4 5.4 7.6 4.6 L7.8 8 Z" fill="#e0b49a"/><g fill="#6f7390"><circle cx="-3" cy="7" r="0.35"/><circle cx="0" cy="8.4" r="0.35"/><circle cx="3" cy="7" r="0.35"/><circle cx="-1.4" cy="10.6" r="0.35"/><circle cx="2" cy="10.4" r="0.35"/><circle cx="5" cy="9" r="0.35"/><circle cx="-5" cy="9.6" r="0.35"/></g></g></g></g><g transform="translate(128.2,374.9)"><circle r="12.5" fill="#b5c7e6" stroke="#c6d2e8" stroke-width="1"/></g><g transform="translate(156.9,374.9)"><defs><clipPath id="c9"><circle r="12.3"/></clipPath></defs><circle r="12.6" fill="#eef0ee" stroke="#d9d9d9" stroke-width="1"/><g clip-path="url(#c9)"><g filter="url(#bl)"><rect x="-13" y="-13" width="26" height="26" fill="#eef1f0"/><path d="M-13 -13 L0 -13 L-2 -6 L-6 0 L-13 3 Z" fill="#5f9342"/><path d="M-12 -8 L-5 -12 L-6 -5 L-11 -1 Z" fill="#86b85a"/><path d="M-9 -2 L-4 -9 L-2.6 -6 L-6 0 Z" fill="#3f6e30"/><path d="M5 -13 L13 -13 L13 -2 L8 -4 Z" fill="#dfe6ee"/><path d="M-11.6 13 L-11 4.6 C-9.6 1.4 -3 0 2 0 C6.6 0 10.4 1.4 12 4.6 L13 13 Z" fill="#17191d"/><ellipse cx="2.4" cy="-5.4" rx="3" ry="3.8" fill="#c99f86"/><path d="M-0.8 -6 C-1 -9.8 1 -10.4 2.6 -10.4 C4.2 -10.4 6 -9.6 5.6 -6.2 C4.6 -8.2 0.8 -8.2 -0.8 -6 Z" fill="#6c6762"/><path d="M-0.2 -3.8 C0.4 -1 1.4 -0.6 2.6 -0.6 C3.8 -0.6 4.8 -1 5.2 -3.8 C4.2 -2.2 0.8 -2.2 -0.2 -3.8 Z" fill="#6a5a50"/><path d="M-13 6 L-7.6 2.6 L-6 13 L-13 13 Z" fill="#3a4150"/><path d="M-4 4.6 L3 3.2 L5 5 L-3 7 Z" fill="#b9917b"/><path d="M-13 9 L-8 8 L-7 13 L-13 13 Z" fill="#5f77a8"/><path d="M6 9 L9 8 L9 13 L6 13 Z" fill="#4c83c8"/></g></g></g><g transform="translate(185.9,374.9)"><defs><clipPath id="c10"><circle r="12.1"/></clipPath></defs><circle r="12.5" fill="#fdfdfc" stroke="#d4d4d4" stroke-width="1"/><g clip-path="url(#c10)"><g filter="url(#bl2)"><path d="M-7 9 C-10.4 2 -8.6 -9.4 0 -9.8 C7.4 -9.6 8.2 -2 6.4 5 C6 7 5.4 8.6 4.6 9.6 L-2 10.4 Z" fill="#65554b"/><path d="M-3.4 -3.4 C-3.4 -6.8 4.6 -6.8 4.6 -3.4 C4.6 2 2.4 4.6 0.6 4.6 C-1.2 4.6 -3.4 2 -3.4 -3.4 Z" fill="#f5e3d8"/><path d="M-3.8 -3.8 C-2.4 -8 3.4 -8 5 -3.6 C2.6 -6 -1.2 -6 -3.8 -3.8 Z" fill="#54443b"/><rect x="-3.2" y="-3.2" width="3.2" height="2.2" rx="0.6" fill="#f0e2d8" stroke="#3d332d" stroke-width="0.8"/><rect x="1.2" y="-3.2" width="3.2" height="2.2" rx="0.6" fill="#f0e2d8" stroke="#3d332d" stroke-width="0.8"/><path d="M-0.4 2.2 Q0.6 2.9 1.6 2.2" stroke="#c2736a" stroke-width="0.8" fill="none"/><path d="M-1 4.2 L-1.2 7 L-6.4 9.4 L-6.4 13 L7.4 13 L7.4 9.4 L2.4 7 L2.2 4.2 Z" fill="#f6f1ec"/><path d="M-2 7.4 L0.6 11.4 L3.2 7.4" stroke="#c9beb2" stroke-width="0.7" fill="none"/></g></g></g><g transform="translate(215,374.9)"><defs><clipPath id="c11"><circle r="12.1"/></clipPath></defs><circle r="12.5" fill="#fdfdfc" stroke="#d4d4d4" stroke-width="1"/><g clip-path="url(#c11)"><g filter="url(#bl2)"><path d="M-6.4 11 C-9 2 -7 -9.6 1 -10 C7 -9.8 8 -3.4 6.2 1.6 L4.8 5 C4.6 7.6 5 9.4 6 11 L-2 13 Z" fill="#86614f"/><path d="M-6.4 11 C-7.6 6 -6.6 0 -4.6 -4 C-5 2 -4.4 7 -2.6 12 Z" fill="#a47f6c"/><path d="M-1.4 -3 C-1 -6.6 5.6 -6.6 5.6 -2.8 C5.6 2.4 3.8 5 2.2 5 C0.2 5 -1.8 2 -1.4 -3 Z" fill="#f6e4d9"/><path d="M-2.4 -2.6 C-1 -7.6 4.8 -7.8 6.2 -3.4 C3.4 -6 0.4 -5.6 -2.4 -2.6 Z" fill="#74513f"/><path d="M-0.2 -1.8 H1.6 M3.2 -1.8 H4.8" stroke="#3d332d" stroke-width="0.8"/><path d="M1.4 2.6 Q2.4 3.2 3.4 2.6" stroke="#c2736a" stroke-width="0.8" fill="none"/><path d="M1 4.8 L0.6 8 L-3.6 10 L-3.6 13 L8 13 L8 10.4 L3.8 8 L3.6 4.8 Z" fill="#f6e9df"/></g></g></g><g transform="translate(243.9,374.9)"><circle r="12.5" fill="#fdfdfd" stroke="#d6d6d6" stroke-width="1"/></g><g transform="translate(41.2,503.9)"><defs><clipPath id="c12"><circle r="12.3"/></clipPath></defs><circle r="12.6" fill="#c9ced8" stroke="#d9d9d9" stroke-width="1"/><g clip-path="url(#c12)"><g filter="url(#bl)"><rect x="-13" y="-13" width="26" height="26" fill="#cfd4dc"/><rect x="-13" y="-13" width="7" height="18" fill="#c4b2b2"/><rect x="2" y="-13" width="4" height="14" fill="#5a6274"/><rect x="6" y="-13" width="7" height="16" fill="#e9eef4"/><rect x="-13" y="5" width="26" height="8" fill="#aeb6c4"/><path d="M-9.4 13 C-10 3 -6.6 -1.6 -2 -2 C2.4 -2.2 5.6 0.6 6.4 6 L7 13 Z" fill="#272d3c"/><ellipse cx="-2" cy="-5.4" rx="2.9" ry="3.6" fill="#8b6450"/><path d="M-5.4 -6 C-5.8 -10.4 -3 -11 -1.6 -11 C0.4 -11 2 -10 1.6 -6.8 C0.2 -8.4 -3.6 -8.4 -5.4 -6 Z" fill="#23222c"/><path d="M-3.6 -2.8 C-3 -1 -1 -1 -0.2 -2.8 L-0.4 0 L-3.4 0 Z" fill="#3a2c28"/><path d="M-3.4 -0.6 L-1.6 2.4 L-0.6 -0.4 Z" fill="#70503f"/><path d="M4.6 1.6 L8.4 -2.6 L9.8 -1.4 L9 1 L6.4 4.4 Z" fill="#a07a64"/><path d="M-2.6 6 L-0.4 6 L0 13 L-3 13 Z" fill="#dfe8f4"/><rect x="-2.4" y="4.6" width="1.8" height="1.6" fill="#5b8fd0"/><path d="M3 7 L6 6 L6.6 13 L3.4 13 Z" fill="#3d4558"/></g></g></g><g transform="translate(70.1,503.9)"><circle r="12.5" fill="#e4e4e4" stroke="#d4d4d4" stroke-width="1"/><path d="M0 -7.2 L7.4 -3.6 L0 -0.2 L-7.4 -3.6 Z" fill="#d6d6d6"/><path d="M-7.4 -3.6 L0 -0.2 L0 8 L-7.4 4.4 Z" fill="#c6c6c6"/><path d="M7.4 -3.6 L0 -0.2 L0 8 L7.4 4.4 Z" fill="#cecece"/></g><g transform="translate(98.9,503.9)"><defs><clipPath id="c13"><circle r="12"/></clipPath></defs><circle r="12.9" fill="#ecece8" stroke="#2f9d0b" stroke-width="2.2"/><g clip-path="url(#c13)"><g filter="url(#bl)"><rect x="-14" y="-14" width="28" height="28" fill="#efefec"/><rect x="-6.4" y="-14" width="1.6" height="20" fill="#c9c9c6"/><rect x="-14" y="-14" width="5" height="28" fill="#e2e2df"/><path d="M4 -14 L14 -14 L14 8 L6 8 Z" fill="#9db08d"/><path d="M6 -9 L9 -11 L10.5 -7 L8 -5 Z M8.5 -3 L11.5 -4.5 L12 0 L9 1 Z M6 2 L8.4 1 L8.6 5 L6.4 5 Z" fill="#f2f4ec"/><path d="M8 -7 L11 -9 M9 1 L12 4" stroke="#5f7a50" stroke-width="1.2"/><path d="M-13 3.5 L-9.4 3 L-9.4 9 L-13 10 Z" fill="#2f2f33"/><path d="M-4.6 -2 C-6 -9.6 -1.4 -11.2 1.6 -10.8 C5.6 -10.4 7 -6.6 6 -2 C5.6 -0.4 5 0.6 4.2 1 L-2.8 1 C-3.8 0.2 -4.4 -0.8 -4.6 -2 Z" fill="#40261b"/><ellipse cx="1.4" cy="-4.2" rx="2.9" ry="3.9" fill="#e4b9a0"/><path d="M-1.6 -5.4 C-0.6 -8.6 3.4 -8.6 4.6 -5 C3 -7 0.6 -7.2 -1.6 -5.4 Z" fill="#40261b"/><circle cx="0.2" cy="-4.6" r="0.4" fill="#5a3a2e"/><circle cx="2.7" cy="-4.6" r="0.4" fill="#5a3a2e"/><path d="M0.2 -2.6 Q1.5 -1.7 2.9 -2.6" stroke="#fff" stroke-width="0.7" fill="none"/><path d="M-0.8 -1 L2.6 -1 L2.8 3.6 L-1 3.6 Z" fill="#ddb096"/><path d="M-3 2 L4.6 2 L4 5 L-2.4 5 Z" fill="#ddb096"/><path d="M-8.6 14 C-8.8 7 -6.8 3.2 -3 2.4 C-1.6 5.6 3.4 5.6 4.6 2.4 C7.8 3.2 9.4 6 9.2 14 Z" fill="#2a2c46"/><path d="M-8.8 12 C-8.8 8 -7.8 5.6 -6.2 4.4 L-6.4 11 Z" fill="#e0b49a"/><path d="M9.2 9 C9 7 8.4 5.4 7.6 4.6 L7.8 8 Z" fill="#e0b49a"/><g fill="#6f7390"><circle cx="-3" cy="7" r="0.35"/><circle cx="0" cy="8.4" r="0.35"/><circle cx="3" cy="7" r="0.35"/><circle cx="-1.4" cy="10.6" r="0.35"/><circle cx="2" cy="10.4" r="0.35"/><circle cx="5" cy="9" r="0.35"/><circle cx="-5" cy="9.6" r="0.35"/></g></g></g></g><g transform="translate(128.2,503.9)"><circle r="12.5" fill="#b5c7e6" stroke="#c6d2e8" stroke-width="1"/></g><g transform="translate(156.9,503.9)"><defs><clipPath id="c14"><circle r="12.3"/></clipPath></defs><circle r="12.6" fill="#eef0ee" stroke="#d9d9d9" stroke-width="1"/><g clip-path="url(#c14)"><g filter="url(#bl)"><rect x="-13" y="-13" width="26" height="26" fill="#eef1f0"/><path d="M-13 -13 L0 -13 L-2 -6 L-6 0 L-13 3 Z" fill="#5f9342"/><path d="M-12 -8 L-5 -12 L-6 -5 L-11 -1 Z" fill="#86b85a"/><path d="M-9 -2 L-4 -9 L-2.6 -6 L-6 0 Z" fill="#3f6e30"/><path d="M5 -13 L13 -13 L13 -2 L8 -4 Z" fill="#dfe6ee"/><path d="M-11.6 13 L-11 4.6 C-9.6 1.4 -3 0 2 0 C6.6 0 10.4 1.4 12 4.6 L13 13 Z" fill="#17191d"/><ellipse cx="2.4" cy="-5.4" rx="3" ry="3.8" fill="#c99f86"/><path d="M-0.8 -6 C-1 -9.8 1 -10.4 2.6 -10.4 C4.2 -10.4 6 -9.6 5.6 -6.2 C4.6 -8.2 0.8 -8.2 -0.8 -6 Z" fill="#6c6762"/><path d="M-0.2 -3.8 C0.4 -1 1.4 -0.6 2.6 -0.6 C3.8 -0.6 4.8 -1 5.2 -3.8 C4.2 -2.2 0.8 -2.2 -0.2 -3.8 Z" fill="#6a5a50"/><path d="M-13 6 L-7.6 2.6 L-6 13 L-13 13 Z" fill="#3a4150"/><path d="M-4 4.6 L3 3.2 L5 5 L-3 7 Z" fill="#b9917b"/><path d="M-13 9 L-8 8 L-7 13 L-13 13 Z" fill="#5f77a8"/><path d="M6 9 L9 8 L9 13 L6 13 Z" fill="#4c83c8"/></g></g></g><g transform="translate(185.9,503.9)"><defs><clipPath id="c15"><circle r="12.1"/></clipPath></defs><circle r="12.5" fill="#fdfdfc" stroke="#d4d4d4" stroke-width="1"/><g clip-path="url(#c15)"><g filter="url(#bl2)"><path d="M-7 9 C-10.4 2 -8.6 -9.4 0 -9.8 C7.4 -9.6 8.2 -2 6.4 5 C6 7 5.4 8.6 4.6 9.6 L-2 10.4 Z" fill="#65554b"/><path d="M-3.4 -3.4 C-3.4 -6.8 4.6 -6.8 4.6 -3.4 C4.6 2 2.4 4.6 0.6 4.6 C-1.2 4.6 -3.4 2 -3.4 -3.4 Z" fill="#f5e3d8"/><path d="M-3.8 -3.8 C-2.4 -8 3.4 -8 5 -3.6 C2.6 -6 -1.2 -6 -3.8 -3.8 Z" fill="#54443b"/><rect x="-3.2" y="-3.2" width="3.2" height="2.2" rx="0.6" fill="#f0e2d8" stroke="#3d332d" stroke-width="0.8"/><rect x="1.2" y="-3.2" width="3.2" height="2.2" rx="0.6" fill="#f0e2d8" stroke="#3d332d" stroke-width="0.8"/><path d="M-0.4 2.2 Q0.6 2.9 1.6 2.2" stroke="#c2736a" stroke-width="0.8" fill="none"/><path d="M-1 4.2 L-1.2 7 L-6.4 9.4 L-6.4 13 L7.4 13 L7.4 9.4 L2.4 7 L2.2 4.2 Z" fill="#f6f1ec"/><path d="M-2 7.4 L0.6 11.4 L3.2 7.4" stroke="#c9beb2" stroke-width="0.7" fill="none"/></g></g></g><g transform="translate(215,503.9)"><defs><clipPath id="c16"><circle r="12.1"/></clipPath></defs><circle r="12.5" fill="#fdfdfc" stroke="#d4d4d4" stroke-width="1"/><g clip-path="url(#c16)"><g filter="url(#bl2)"><path d="M-6.4 11 C-9 2 -7 -9.6 1 -10 C7 -9.8 8 -3.4 6.2 1.6 L4.8 5 C4.6 7.6 5 9.4 6 11 L-2 13 Z" fill="#86614f"/><path d="M-6.4 11 C-7.6 6 -6.6 0 -4.6 -4 C-5 2 -4.4 7 -2.6 12 Z" fill="#a47f6c"/><path d="M-1.4 -3 C-1 -6.6 5.6 -6.6 5.6 -2.8 C5.6 2.4 3.8 5 2.2 5 C0.2 5 -1.8 2 -1.4 -3 Z" fill="#f6e4d9"/><path d="M-2.4 -2.6 C-1 -7.6 4.8 -7.8 6.2 -3.4 C3.4 -6 0.4 -5.6 -2.4 -2.6 Z" fill="#74513f"/><path d="M-0.2 -1.8 H1.6 M3.2 -1.8 H4.8" stroke="#3d332d" stroke-width="0.8"/><path d="M1.4 2.6 Q2.4 3.2 3.4 2.6" stroke="#c2736a" stroke-width="0.8" fill="none"/><path d="M1 4.8 L0.6 8 L-3.6 10 L-3.6 13 L8 13 L8 10.4 L3.8 8 L3.6 4.8 Z" fill="#f6e9df"/></g></g></g><g transform="translate(243.9,503.9)"><circle r="12.5" fill="#fdfdfd" stroke="#d6d6d6" stroke-width="1"/></g><g transform="translate(31,277)"><rect x="0.5" y="1.5" width="15" height="14" fill="#fff" stroke="#86c9f3"/><rect x="0" y="1" width="16" height="2.2" fill="#1c9be2"/><path d="M3.6 0 V2.6 M12.4 0 V2.6" stroke="#1c9be2" stroke-width="1.2"/><path d="M4.6 11.2 L11.4 6.4" stroke="#1c9be2" stroke-width="2.5"/><circle cx="4.3" cy="11.4" r="2.7" fill="#1c9be2"/><circle cx="11.7" cy="6.2" r="2.7" fill="#1c9be2"/><path d="M1.2 13 L3.6 11.6 L5.2 14.4 L3.4 15 Z" fill="#fff"/><path d="M14.8 4.6 L12.4 6 L10.8 3.2 L12.6 2.8 Z" fill="#fff"/></g><g transform="translate(31,406)"><rect x="0.5" y="1.5" width="15" height="14" fill="#fff" stroke="#86c9f3"/><rect x="0" y="1" width="16" height="2.2" fill="#1c9be2"/><path d="M3.6 0 V2.6 M12.4 0 V2.6" stroke="#1c9be2" stroke-width="1.2"/><path d="M4.6 11.2 L11.4 6.4" stroke="#1c9be2" stroke-width="2.5"/><circle cx="4.3" cy="11.4" r="2.7" fill="#1c9be2"/><circle cx="11.7" cy="6.2" r="2.7" fill="#1c9be2"/><path d="M1.2 13 L3.6 11.6 L5.2 14.4 L3.4 15 Z" fill="#fff"/><path d="M14.8 4.6 L12.4 6 L10.8 3.2 L12.6 2.8 Z" fill="#fff"/></g><g transform="translate(1124,635)"><path d="M11.6 6.8 V0.6 H3.4 L0.6 3.4 V15.4 H11.6 V13.6" fill="none" stroke="#3c3c3c" stroke-width="1.2"/><path d="M0.6 3.4 H3.4 V0.6 Z" fill="#3c3c3c"/><path d="M8 9 H13 V6.4 L17.2 10.3 L13 14.2 V11.6 H8 Z" fill="#3c3c3c"/></g></svg><div class="a" id="tipbox"></div><svg id="cursor" style="left:344.4px;top:462.4px;z-index:14" width="13.3" height="20" viewBox="0 0 14 21"><path d="M0.8 0.8 V17 L4.6 13.4 L7.2 19.6 L9.8 18.5 L7.2 12.4 H12.4 Z" fill="#fff" stroke="#111" stroke-width="1.1" stroke-linejoin="miter"/></svg>
<div id="texts">
<span class="t" style="left:33.6px;top:8.8px;font-size:12px;color:#6b6048;letter-spacing:-0.206px;">MY AREA</span>
<span class="t" style="left:102.8px;top:8.8px;font-size:12px;color:#1d1a14;font-weight:700;letter-spacing:-0.586px;">PROJECTS</span>
<span class="t" style="left:180.3px;top:8.8px;font-size:12px;color:#6b6048;letter-spacing:-0.343px;">INTERNAL</span>
<span class="t" style="left:254.7px;top:8.8px;font-size:12px;color:#6b6048;letter-spacing:-0.457px;">EXTERNAL</span>
<span class="t" style="left:327.9px;top:39.8px;font-size:12px;color:#6f6650;letter-spacing:0.105px;">Projects</span>
<span class="t" style="left:393.8px;top:39.8px;font-size:12px;color:#6f6650;letter-spacing:0.083px;">Internal projects</span>
<span class="t" style="left:502.3px;top:39.8px;font-size:12px;color:#6f6650;letter-spacing:0.168px;">Marketing</span>
<span class="t" style="left:592.3px;top:39.8px;font-size:12px;color:#6f6650;letter-spacing:-0.018px;">Relaunch Arkona website</span>
<span class="t" style="left:749.0px;top:39.8px;font-size:12px;color:#6f6650;letter-spacing:0.132px;">Implementation</span>
<span class="t" style="left:381.8px;top:39.8px;font-size:12px;color:#6f6650;letter-spacing:0.000px;">›</span>
<span class="t" style="left:490.3px;top:39.8px;font-size:12px;color:#6f6650;letter-spacing:0.000px;">›</span>
<span class="t" style="left:566.1px;top:39.8px;font-size:12px;color:#6f6650;letter-spacing:0.000px;">›</span>
<span class="t" style="left:736.8px;top:39.8px;font-size:12px;color:#6f6650;letter-spacing:0.000px;">›</span>
<span class="t" style="left:842.8px;top:39.8px;font-size:12px;color:#6f6650;letter-spacing:0.000px;">›</span>
<span class="t" style="left:474.2px;top:60.9px;font-size:17px;color:#1d1a14;font-weight:700;letter-spacing:-0.586px;">CMS user training</span>
<span class="t" style="left:614.9px;top:60.9px;font-size:17px;color:#7b705a;letter-spacing:-0.320px;">Task, Open</span>
<span class="t" style="left:85.1px;top:106.1px;font-size:14px;color:#3a3428;letter-spacing:-0.023px;">Master Data</span>
<span class="t" style="left:288.2px;top:106.1px;font-size:14px;color:#2b2b2b;letter-spacing:0.335px;">Topics</span>
<span class="t" style="left:19.7px;top:147.2px;font-size:24.3px;color:#3b3f45;letter-spacing:0.088px;">Topics</span>
<span class="t" style="left:148.9px;top:152.0px;font-size:13px;color:#777;letter-spacing:0.071px;">Collection</span>
<span class="t" style="left:237.7px;top:152.0px;font-size:13px;color:#1b8ad6;letter-spacing:0.124px;">Planning</span>
<span class="t" style="left:319.5px;top:152.0px;font-size:13px;color:#777;letter-spacing:0.108px;">Agenda items</span>
<span class="t" style="left:27.7px;top:193.4px;font-size:14px;color:#222;letter-spacing:0.166px;">Appointment date</span>
<span class="t" style="left:177.6px;top:193.4px;font-size:14px;color:#222;letter-spacing:0.104px;">from day</span>
<span class="t" style="left:525.3px;top:193.4px;font-size:14px;color:#222;letter-spacing:0.057px;">Fri 11/10/24 (CW no. 41)</span>
<span class="t" style="left:27.7px;top:254.8px;font-size:12px;color:#666;letter-spacing:0.085px;">Date</span>
<span class="t" style="left:368.8px;top:254.8px;font-size:12px;color:#666;letter-spacing:-0.032px;">Responsible</span>
<span class="t" style="left:541.5px;top:254.8px;font-size:12px;color:#666;letter-spacing:0.018px;">Duration</span>
<span class="t" style="left:601.5px;top:254.8px;font-size:12px;color:#666;letter-spacing:0.067px;">Subject</span>
<span class="t" style="left:1061.0px;top:254.8px;font-size:12px;color:#666;letter-spacing:0.237px;">Topic</span>
<span class="t" style="left:1105.3px;top:254.8px;font-size:12px;color:#666;letter-spacing:-0.039px;">Status</span>
<span class="t" style="left:702.7px;top:231.8px;font-size:12px;color:#666;letter-spacing:0.021px;">Agenda</span>
<span class="t" style="left:49.6px;top:278.3px;font-size:14px;color:#15598f;letter-spacing:0.057px;-webkit-text-stroke:0.35px #15598f;">CMS training</span>
<span class="t" style="left:27.7px;top:300.7px;font-size:12px;color:#666;letter-spacing:0.149px;">Fri 11 Oct 2024 09:00 - 12:00</span>
<span class="t" style="left:27.7px;top:316.8px;font-size:12px;color:#666;letter-spacing:0.313px;">01:30h of 03:00h / 2 Agendaitems</span>
<span class="t" style="left:117.5px;top:371.1px;font-size:8px;color:#7082a6;letter-spacing:0.359px;">MiMa</span>
<span class="t" style="left:236.7px;top:368.8px;font-size:11.5px;color:#5d5f86;letter-spacing:0.437px;">+7</span>
<span class="t" style="left:49.6px;top:407.3px;font-size:14px;color:#15598f;letter-spacing:0.057px;-webkit-text-stroke:0.35px #15598f;">CMS training</span>
<span class="t" style="left:27.7px;top:429.7px;font-size:12px;color:#666;letter-spacing:0.118px;">Fri 18 Oct 2024 09:00 - 12:00</span>
<span class="t" style="left:27.7px;top:445.8px;font-size:12px;color:#666;letter-spacing:0.313px;">01:30h of 03:00h / 2 Agendaitems</span>
<span class="t" style="left:117.5px;top:500.1px;font-size:8px;color:#7082a6;letter-spacing:0.359px;">MiMa</span>
<span class="t" style="left:236.7px;top:497.8px;font-size:11.5px;color:#5d5f86;letter-spacing:0.437px;">+7</span>
<span class="t du" style="left:544.9px;top:278.3px;font-size:14px;color:#222;letter-spacing:0.112px;">00:30h</span>
<span class="t du" style="left:620.8px;top:278.3px;font-size:14px;color:#222;letter-spacing:0.017px;">Organisation</span>
<span class="t du" style="left:544.9px;top:321.3px;font-size:14px;color:#222;letter-spacing:0.112px;">01:00h</span>
<span class="t du" style="left:620.8px;top:321.3px;font-size:14px;color:#222;letter-spacing:0.110px;">Definition of article types</span>
<span class="t du" style="left:544.9px;top:407.3px;font-size:14px;color:#222;letter-spacing:0.112px;">01:00h</span>
<span class="t du" style="left:620.8px;top:407.3px;font-size:14px;color:#222;letter-spacing:0.007px;">Appendix Navigation Structure</span>
<span class="t du" style="left:544.9px;top:450.3px;font-size:14px;color:#222;letter-spacing:0.112px;">00:30h</span>
<span class="t du" style="left:620.8px;top:450.3px;font-size:14px;color:#222;letter-spacing:0.017px;">Organisation</span>
<span class="t" style="left:475.9px;top:365.1px;font-size:14px;color:#777;letter-spacing:-0.096px;">Remaining 01:30h</span>
<span class="t" style="left:601.8px;top:365.1px;font-size:14px;color:#1a5e94;letter-spacing:0.003px;">Add agenda item</span>
<span class="t" style="left:475.9px;top:494.1px;font-size:14px;color:#777;letter-spacing:-0.096px;">Remaining 01:30h</span>
<span class="t" style="left:601.8px;top:494.1px;font-size:14px;color:#1a5e94;letter-spacing:0.003px;">Add agenda item</span>
<span class="t" style="left:27.4px;top:536.3px;font-size:14px;color:#666;font-weight:700;letter-spacing:-0.279px;">3 unplanned topics (00:00h)</span>
<span class="t" style="left:27.4px;top:558.7px;font-size:12.5px;color:#1a5e94;letter-spacing:0.027px;">Create additional topic ...</span>
<span class="t du" style="left:544.7px;top:536.1px;font-size:14px;color:#222;letter-spacing:0.195px;">00:00h</span>
<span class="t du" style="left:623.4px;top:536.1px;font-size:14px;color:#222;letter-spacing:0.203px;">Allocation of authorisations</span>
<span class="t du" style="left:1104.5px;top:536.1px;font-size:14px;color:#222;font-weight:700;letter-spacing:-0.445px;">Open</span>
<span class="t du" style="left:544.7px;top:564.9px;font-size:14px;color:#222;letter-spacing:0.195px;">00:00h</span>
<span class="t du" style="left:623.4px;top:564.9px;font-size:14px;color:#222;letter-spacing:-0.181px;">SEO tools</span>
<span class="t du" style="left:1104.5px;top:564.9px;font-size:14px;color:#222;font-weight:700;letter-spacing:-0.445px;">Open</span>
<span class="t du" style="left:544.7px;top:594.5px;font-size:14px;color:#222;letter-spacing:0.195px;">00:00h</span>
<span class="t du" style="left:623.4px;top:594.5px;font-size:14px;color:#222;letter-spacing:0.075px;">Configuration full text search</span>
<span class="t du" style="left:1104.5px;top:594.5px;font-size:14px;color:#222;font-weight:700;letter-spacing:-0.445px;">Open</span>
<span class="t" style="left:1035.5px;top:153.2px;font-size:16.6px;color:#fff;letter-spacing:0.552px;-webkit-text-stroke:0.3px #fff;">Edit</span>
</div>
<div id="tiptext">
<span class="t tip" style="left:363.0px;top:485.1px;font-size:12px;color:#444;letter-spacing:0.028px;">Permanent appointment agenda item</span>
</div>
</body>
</html>
